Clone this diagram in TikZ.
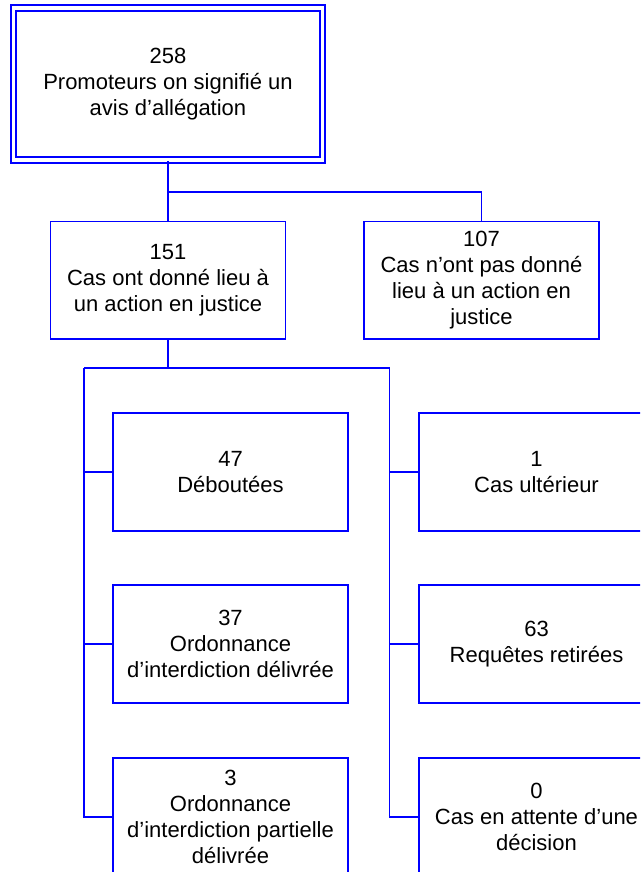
\documentclass[tikz,border=0pt]{standalone}
\usepackage{fontspec}
\setmainfont{Liberation Sans}
\begin{document}
\begin{tikzpicture}[x=1pt,y=-1pt,
  txt/.style={font=\fontsize{22}{26}\selectfont, text=black, align=center, inner sep=0pt},
  box/.style={txt, draw=blue, line width=1.8pt, minimum width=235pt, minimum height=117.5pt},
  headbox/.style={txt, draw=blue, double=white, double distance=3.7pt, line width=1.8pt,
                  minimum width=309pt, minimum height=152pt},
  conn/.style={draw=blue, line width=1.8pt}]
\clip (0,0) rectangle (640,872);
\fill[white] (0,0) rectangle (640,872);

% root and first level
\node[headbox] (top) at (168,84) {258\\Promoteurs on signifié un\\avis d’allégation};
\node[box] (n151) at (168,280.3) {151\\Cas ont donné lieu à\\un action en justice};
\node[box] (n107) at (481.5,280.3) {107\\Cas n’ont pas donné\\lieu à un action en\\justice};

% outcomes of the court cases
\node[box] (n47) at (230.5,472) {47\\Déboutées};
\node[box] (n37) at (230.5,644) {37\\Ordonnance\\d’interdiction délivrée};
\node[box] (n3)  at (230.5,817) {3\\Ordonnance\\d’interdiction partielle\\délivrée};
\node[box] (n1)  at (536.5,472) {1\\Cas ultérieur};
\node[box] (n63) at (536.5,644) {63\\Requêtes retirées};
\node[box] (n0)  at (536.5,817) {0\\Cas en attente d’une\\décision};

% connectors
\coordinate (j1) at (168,192);
\draw[conn] (top.south) -- (j1) -| (n107.north);
\draw[conn] (j1) -- (n151.north);

\coordinate (j2) at (168,368);
\coordinate (bl) at (84,368);
\coordinate (br) at (389.5,368);
\draw[conn] (n151.south) -- (j2);
\draw[conn] (bl) -- (br);

\draw[conn] (bl) |- (n3.west);
\draw[conn] (bl |- n47.west) -- (n47.west);
\draw[conn] (bl |- n37.west) -- (n37.west);

\draw[conn] (br) |- (n0.west);
\draw[conn] (br |- n1.west) -- (n1.west);
\draw[conn] (br |- n63.west) -- (n63.west);
\end{tikzpicture}
\end{document}
